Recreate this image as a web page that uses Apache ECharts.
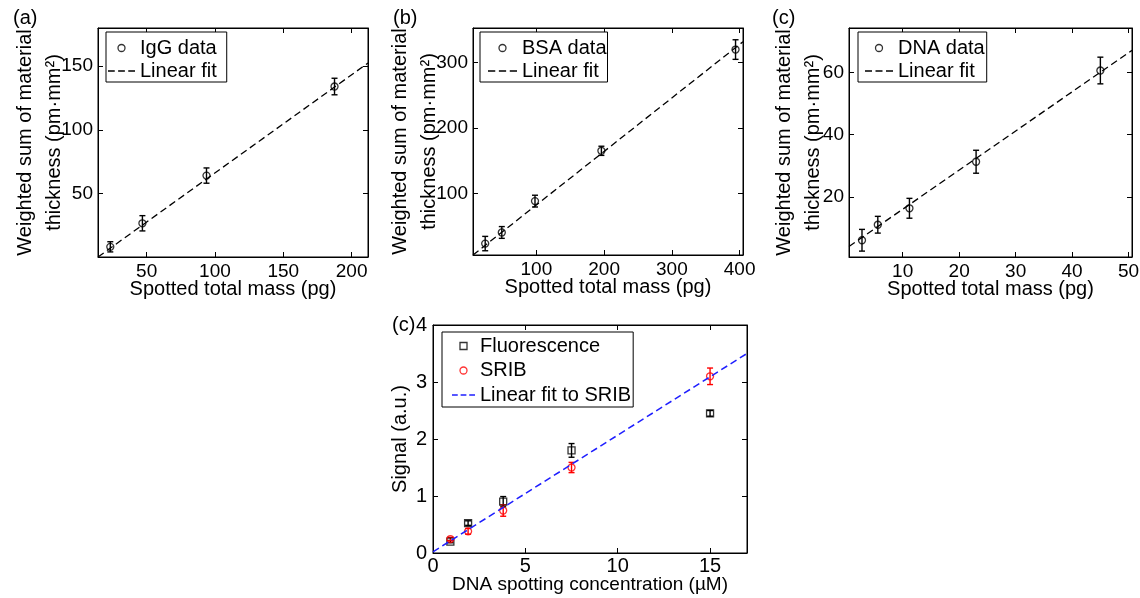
<!DOCTYPE html>
<html><head><meta charset="utf-8">
<script src="https://cdn.jsdelivr.net/npm/echarts@6/dist/echarts.min.js"></script>
<style>html,body{margin:0;padding:0;background:#fff}#c{width:1140px;height:598px}</style>
</head><body><div id="c"></div>
<script>
// ---------- data ----------
// (a) IgG
const igMass = [23.4, 46.9, 93.8, 187.5];
const igVal = [8, 26.5, 64, 134];
const igErr = [4, 6, 6, 6.5];
const igFitX = [14.4, 212];
const igFitY = [0, 152.5];
const igXTicks = [50, 100, 150, 200];
const igYTicks = [50, 100, 150];
// (b) BSA
const bsaMass = [24.5, 49, 98, 196, 394];
const bsaVal = [23, 40, 88, 165, 320];
const bsaErr = [11, 9, 9, 7, 15];
const bsaFitX = [6.5, 405];
const bsaFitY = [5.5, 332];
const bsaXTicks = [100, 200, 300, 400];
const bsaYTicks = [100, 200, 300];
// (c) DNA
const dnaMass = [2.8, 5.6, 11.2, 23, 45];
const dnaVal = [6, 11, 16.3, 31.3, 60.7];
const dnaErr = [3.5, 2.7, 3.2, 3.7, 4.3];
const dnaFitX = [0.5, 50.6];
const dnaFitY = [4, 67.2];
const dnaXTicks = [10, 20, 30, 40, 50];
const dnaYTicks = [20, 40, 60];
// bottom: DNA spotting concentration
const concX = [0.94, 1.9, 3.8, 7.5, 15];
const fluoVal = [0.2, 0.525, 0.9, 1.8, 2.45];
const fluoErr = [0.02, 0.04, 0.09, 0.12, 0.05];
const sribVal = [0.245, 0.38, 0.745, 1.5, 3.1];
const sribErr = [0.03, 0.05, 0.1, 0.09, 0.145];
const sribFitX = [0, 17];
const sribFitY = [0.02, 3.5];
const concXTicks = [0, 5, 10, 15];
const concYTicks = [0, 1, 2, 3, 4];

// ---------- helpers ----------
const FONT = 'Liberation Sans, Arial, Helvetica, sans-serif';
const DASH_ICON = 'path://M0,0H6V1.4H0Z M9,0H15V1.4H9Z M18,0H24V1.4H18Z';
const SQUARE_ICON = 'path://M0,0H10V10H0Z';
const zip2 = (a, b) => a.map((v, i) => [v, b[i]]);
const zip3 = (a, b, c) => a.map((v, i) => [v, b[i], c[i]]);

function xAxes(gi, min, max, ticks, name, fs, nfs, nameGap, margin) {
  const base = {
    type: 'value', gridIndex: gi, min: min, max: max,
    axisLine: {show: true, onZero: false, lineStyle: {color: '#000', width: 1}},
    axisTick: {show: true, inside: true, length: 5, customValues: ticks, lineStyle: {color: '#000', width: 1}},
    splitLine: {show: false}
  };
  return [
    Object.assign({}, base, {
      position: 'bottom',
      axisLabel: {show: true, customValues: ticks, color: '#000', fontSize: fs, fontFamily: FONT, margin: margin},
      name: name, nameLocation: 'middle', nameGap: nameGap, nameMoveOverlap: false,
      nameTextStyle: {color: '#000', fontSize: nfs, fontFamily: FONT}
    }),
    Object.assign({}, base, {position: 'top', axisLabel: {show: false}})
  ];
}
function yAxes(gi, min, max, ticks, name, fs, nfs, nameGap, margin, lh) {
  const base = {
    type: 'value', gridIndex: gi, min: min, max: max,
    axisLine: {show: true, onZero: false, lineStyle: {color: '#000', width: 1}},
    axisTick: {show: true, inside: true, length: 5, customValues: ticks, lineStyle: {color: '#000', width: 1}},
    splitLine: {show: false}
  };
  return [
    Object.assign({}, base, {
      position: 'left',
      axisLabel: {show: true, customValues: ticks, color: '#000', fontSize: fs, fontFamily: FONT, margin: margin},
      name: name, nameLocation: 'middle', nameGap: nameGap, nameRotate: 90, nameMoveOverlap: false,
      nameTextStyle: {color: '#000', fontSize: nfs, fontFamily: FONT, lineHeight: lh, align: 'center'}
    }),
    Object.assign({}, base, {position: 'right', axisLabel: {show: false}})
  ];
}
function errRender(params, api) {
  const x = api.value(0), y = api.value(1), e = api.value(2);
  const hi = api.coord([x, y + e]), lo = api.coord([x, y - e]);
  const w = 3;
  const st = {stroke: api.visual('color'), lineWidth: 1.4};
  return {type: 'group', children: [
    {type: 'line', shape: {x1: hi[0], y1: hi[1], x2: lo[0], y2: lo[1]}, style: st},
    {type: 'line', shape: {x1: hi[0] - w, y1: hi[1], x2: hi[0] + w, y2: hi[1]}, style: st},
    {type: 'line', shape: {x1: lo[0] - w, y1: lo[1], x2: lo[0] + w, y2: lo[1]}, style: st}
  ]};
}
function errSeries(name, gi, xs, ys, es, color) {
  return {type: 'custom', name: name, xAxisIndex: 2 * gi, yAxisIndex: 2 * gi,
    renderItem: errRender, data: zip3(xs, ys, es), itemStyle: {color: color}, silent: true, z: 2};
}
function scatSeries(name, gi, xs, ys, color, sym) {
  return {type: 'scatter', name: name, xAxisIndex: 2 * gi, yAxisIndex: 2 * gi,
    data: zip2(xs, ys), symbol: sym, symbolSize: 7,
    itemStyle: {color: 'transparent', borderColor: color, borderWidth: 1.3}, z: 3, silent: true};
}
function fitSeries(name, gi, xs, ys, color, width) {
  return {type: 'line', name: name, xAxisIndex: 2 * gi, yAxisIndex: 2 * gi,
    data: zip2(xs, ys), showSymbol: false, symbol: 'none',
    lineStyle: {color: color, width: width, type: [7, 4]}, itemStyle: {color: color}, z: 4, silent: true};
}
function legend(names, left, top, padding, itemWidth, itemGap) {
  return {
    data: names, orient: 'vertical', left: left, top: top, padding: padding,
    itemWidth: itemWidth, itemHeight: 7, itemGap: itemGap,
    borderColor: '#000', borderWidth: 1, borderRadius: 0, backgroundColor: '#fff',
    selectedMode: false,
    textStyle: {fontSize: 20, fontFamily: FONT, color: '#000', lineHeight: 22},
    itemStyle: {borderWidth: 1.3}
  };
}

const yNameTop = 'Weighted sum of material\nthickness (pm·mm²)';
const xNameTop = 'Spotted total mass (pg)';

const option = {
  animation: false,
  backgroundColor: '#fff',
  grid: [
    {left: 98, top: 28, width: 270, height: 229},
    {left: 473, top: 28, width: 270, height: 227},
    {left: 849, top: 28, width: 283, height: 229},
    {left: 433, top: 325, width: 314, height: 228}
  ].map(g => Object.assign(g, {show: true, borderColor: '#000', borderWidth: 1, backgroundColor: 'transparent', containLabel: false, outerBoundsMode: 'none'})),
  xAxis: [].concat(
    xAxes(0, 14.4, 212, igXTicks, xNameTop, 19, 20, 22, 5),
    xAxes(1, 6.5, 405, bsaXTicks, xNameTop, 19, 20, 22, 5),
    xAxes(2, 0.5, 50.6, dnaXTicks, xNameTop, 19, 20, 22, 5),
    xAxes(3, 0, 17, concXTicks, 'DNA spotting concentration (\u00B5M)', 20, 19, 22, 3)
  ),
  yAxis: [].concat(
    yAxes(0, 0, 180, igYTicks, yNameTop, 19, 20, 29.5, 5, 29),
    yAxes(1, 5.5, 353, bsaYTicks, yNameTop, 19, 20, 29.5, 5, 29),
    yAxes(2, 0.6, 74.4, dnaYTicks, yNameTop, 19, 20, 21.5, 5, 29),
    yAxes(3, 0, 4, concYTicks, 'Signal (a.u.)', 20, 20, 21, 6, 24)
  ),
  legend: [
    legend([{name: 'IgG data', icon: 'circle'}, {name: 'Linear fit', icon: DASH_ICON}], 106, 32, [5, 10, 0, 2], 27, 1),
    legend([{name: 'BSA data', icon: 'circle'}, {name: 'Linear fit', icon: DASH_ICON}], 480, 32, [5, 1, 0, 8], 29, 1),
    legend([{name: 'DNA data', icon: 'circle'}, {name: 'Linear fit', icon: DASH_ICON}], 858, 32, [5, 2, 0, 7], 28, 1),
    legend([{name: 'Fluorescence', icon: SQUARE_ICON}, {name: 'SRIB', icon: 'circle'}, {name: 'Linear fit to SRIB', icon: DASH_ICON}], 442, 332, [3, 2, 1, 10], 23, 2.5)
  ],
  graphic: [
    {type: 'text', left: 13, top: 8, style: {text: '(a)', fontSize: 20, fontFamily: FONT, fill: '#000'}},
    {type: 'text', left: 393, top: 8, style: {text: '(b)', fontSize: 20, fontFamily: FONT, fill: '#000'}},
    {type: 'text', left: 772, top: 8, style: {text: '(c)', fontSize: 20, fontFamily: FONT, fill: '#000'}},
    {type: 'text', left: 392, top: 315, style: {text: '(c)', fontSize: 20, fontFamily: FONT, fill: '#000'}}
  ],
  series: [
    errSeries('IgG err', 0, igMass, igVal, igErr, '#000'),
    scatSeries('IgG data', 0, igMass, igVal, '#000', 'circle'),
    fitSeries('Linear fit', 0, igFitX, igFitY, '#000', 1.3),
    errSeries('BSA err', 1, bsaMass, bsaVal, bsaErr, '#000'),
    scatSeries('BSA data', 1, bsaMass, bsaVal, '#000', 'circle'),
    fitSeries('Linear fit', 1, bsaFitX, bsaFitY, '#000', 1.3),
    errSeries('DNA err', 2, dnaMass, dnaVal, dnaErr, '#000'),
    scatSeries('DNA data', 2, dnaMass, dnaVal, '#000', 'circle'),
    fitSeries('Linear fit', 2, dnaFitX, dnaFitY, '#000', 1.3),
    errSeries('Fluo err', 3, concX, fluoVal, fluoErr, '#000'),
    scatSeries('Fluorescence', 3, concX, fluoVal, '#000', 'rect'),
    errSeries('SRIB err', 3, concX, sribVal, sribErr, '#ff0000'),
    scatSeries('SRIB', 3, concX, sribVal, '#ff0000', 'circle'),
    fitSeries('Linear fit to SRIB', 3, sribFitX, sribFitY, '#1f1fff', 1.5)
  ]
};
const chart = echarts.init(document.getElementById('c'), null, {renderer: 'canvas'});
chart.setOption(option);
</script>
</body></html>
